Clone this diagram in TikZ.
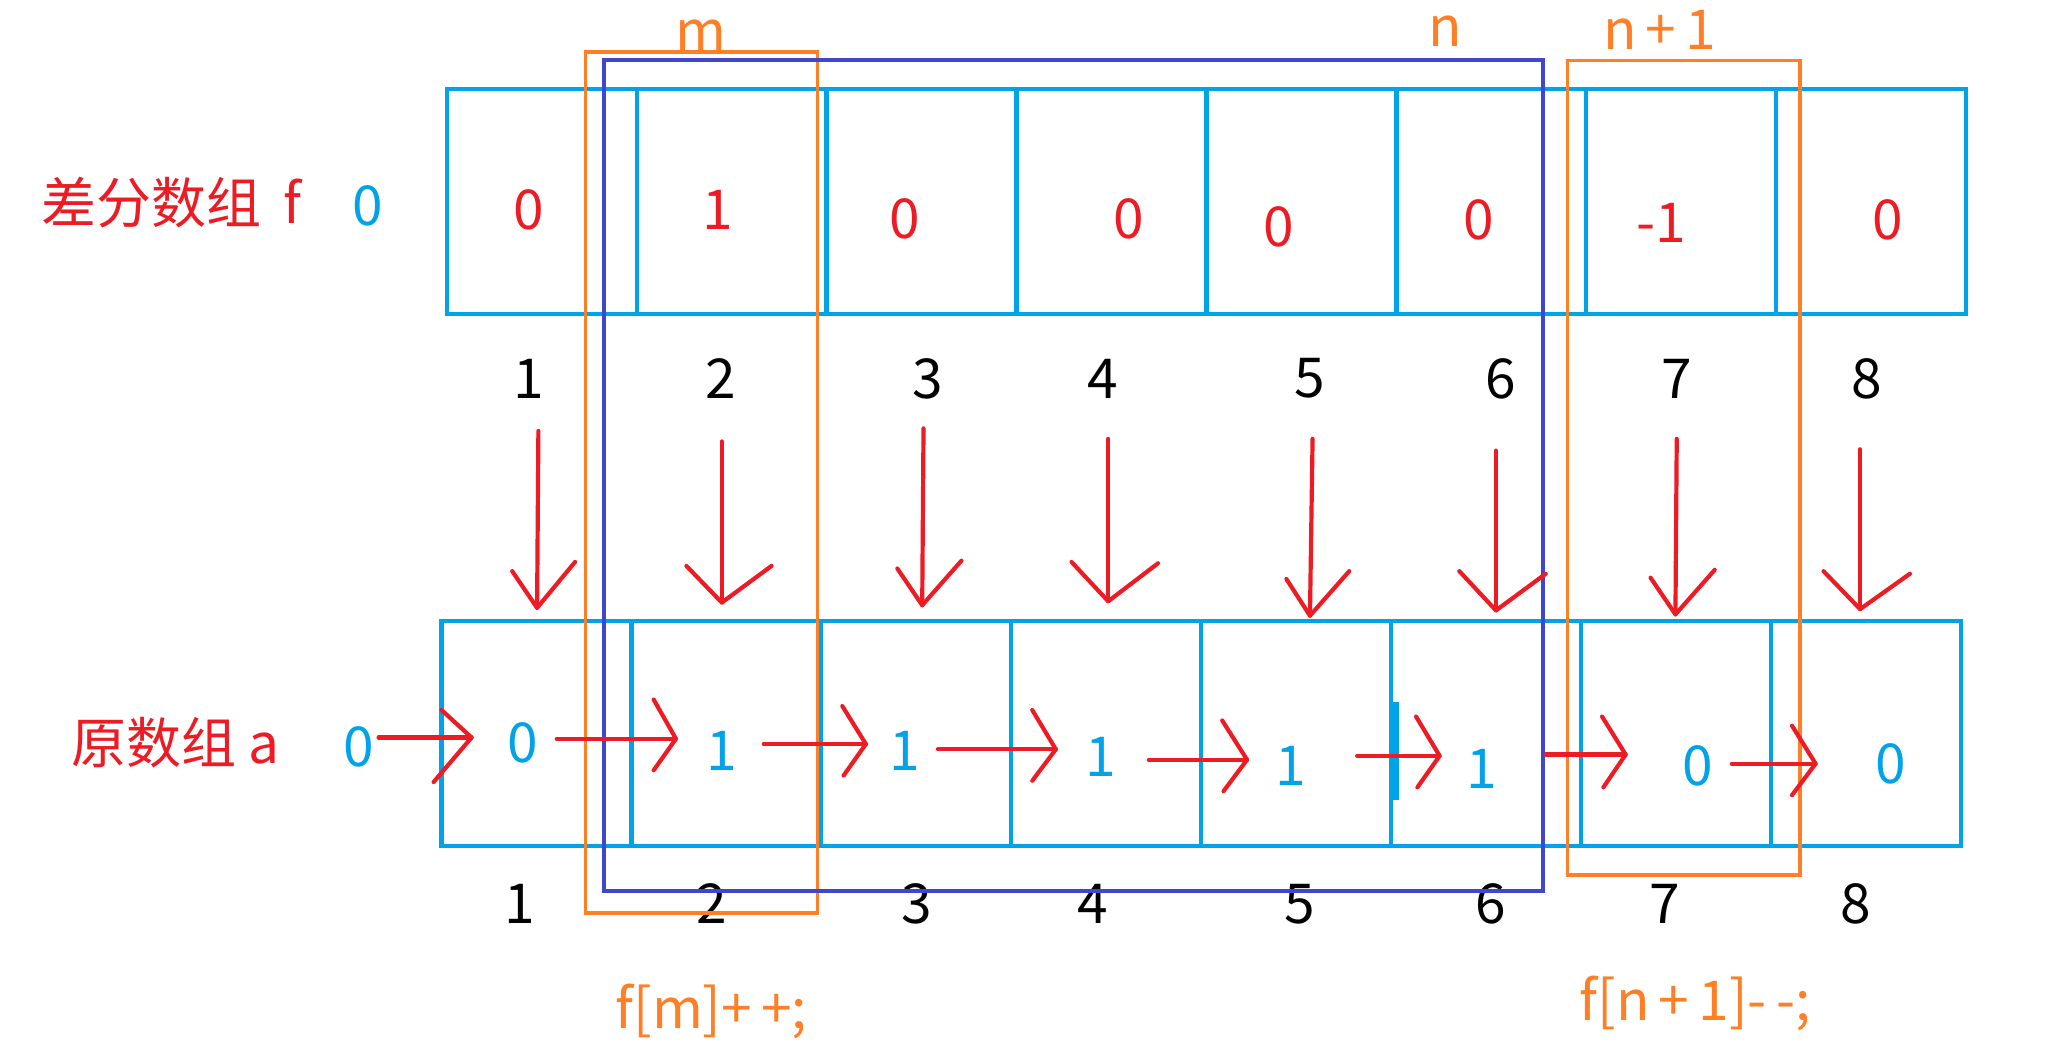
\documentclass[tikz,border=0pt]{standalone}
\usepackage{fontspec}
\setmainfont{Noto Sans CJK SC}
\definecolor{pblue}{RGB}{0,162,232}
\definecolor{pred}{RGB}{237,28,36}
\definecolor{porange}{RGB}{255,127,39}
\definecolor{ppurple}{RGB}{63,72,204}
\begin{document}
\begin{tikzpicture}[x=0.5pt,y=-0.5pt,
  font=\fontsize{21}{25}\selectfont,
  cell/.style={draw=pblue, line width=1.6pt, minimum width=72.5pt, minimum height=86pt, inner sep=0pt},
  fval/.style={text=pred, inner sep=0pt},
  aval/.style={text=pblue, inner sep=0pt},
  idx/.style={text=black, inner sep=0pt},
  olabel/.style={text=porange, inner sep=0pt},
  obox/.style={draw=porange, line width=1.4pt, inner sep=0pt},
  pbox/.style={draw=ppurple, line width=1.4pt, inner sep=0pt},
  redline/.style={draw=pred, line width=1.6pt, line cap=round, line join=round}]
\useasboundingbox (0,0) rectangle (1568,803);

% cells
\foreach \i in {1,...,8}{
  \node[cell] (t\i) at ({413.5+145*(\i-1)},154) {};
  \node[cell] (b\i) at ({409.5+145*(\i-1)},560) {};
}
\draw[pblue, line width=2.6pt] (1065,536) -- (1065,611);

% row labels
\node[text=pred, inner sep=0pt] (flabel) at (131,155) {差分数组\hspace{0.4em}f};
\node[aval] (f0) at (281,157) {0};
\node[text=pred, inner sep=0pt] (alabel) at (134,567) {原数组 a};
\node[aval] (a0) at (274,570) {0};

% top values
\foreach \n/\x/\y/\t in {1/404/160/0, 2/548/160/1, 3/691/167/0, 4/862/167/0, 5/976/173/0, 6/1129/168/0, 7/1268/170/-1, 8/1441/168/0}
  \node[fval] (fv\n) at (\x,\y) {\t};

% bottom values
\foreach \n/\x/\y/\t in {1/399/567/0, 2/551/573/1, 3/691/573/1, 4/840/578/1, 5/985/585/1, 6/1131/587/1, 7/1296/585/0, 8/1443/583/0}
  \node[aval] (av\n) at (\x,\y) {\t};

% indices
\foreach \n/\x in {1/404, 2/550, 3/708, 4/842, 5/1000, 6/1146, 7/1280, 8/1425}
  \node[idx] (ti\n) at (\x,289) {\n};
\foreach \n/\x in {1/397, 2/543, 3/700, 4/834, 5/992, 6/1138, 7/1271, 8/1417}
  \node[idx] (bi\n) at (\x,690) {\n};

% range boxes
\node[obox, minimum width=88.5pt, minimum height=328.5pt] (mbox) at (535.5,368.3) {};
\node[pbox, minimum width=358.5pt, minimum height=317pt] (nbox) at (819.5,363) {};
\node[obox, minimum width=88.7pt, minimum height=311pt] (n1box) at (1285.3,357.2) {};
\node[olabel] (mlab) at (535,27) {m};
\node[olabel] (nlab) at (1103,24) {n};
\node[olabel] (n1lab) at (1267,23) {n\,+\,1};
\node[olabel] (mop) at (543,772) {f[m]+\,+;};
\node[olabel] (nop) at (1294,766) {f[n\,+\,1]{-}\,{-};};

% down arrows
\foreach \x/\yt/\tx/\ty/\lx/\ly/\rx/\ry in {
  411/329/410/464/391/436/439/429,
  551/337/551/460/524/432/589/432,
  705/327/704/462/685/434/734/428,
  846/335/846/459/818/429/884/430,
  1002/335/1000/470/982/442/1030/436,
  1142/344/1142/466/1114/436/1180/438,
  1280/335/1279/469/1260/441/1309/435,
  1420/343/1420/465/1392/436/1458/438}{
  \draw[redline] (\x,\yt) -- (\tx,\ty);
  \draw[redline] (\lx,\ly) -- (\tx,\ty) -- (\rx,\ry);
}

% horizontal arrows
\foreach \sx/\tx/\ty/\ux/\uy/\lx/\ly in {
  289/360/563/337/542/331/597,
  425/516/564/499/534/499/588,
  583/661/568/643/539/644/592,
  716/806/572/788/542/788/596,
  877/952/580/933/550/934/604,
  1036/1099/577/1081/547/1082/601,
  1180/1241/576/1223/547/1224/601,
  1322/1386/583/1368/554/1368/607}{
  \draw[redline] (\sx,\ty) -- (\tx,\ty);
  \draw[redline] (\ux,\uy) -- (\tx,\ty) -- (\lx,\ly);
}
\end{tikzpicture}
\end{document}
